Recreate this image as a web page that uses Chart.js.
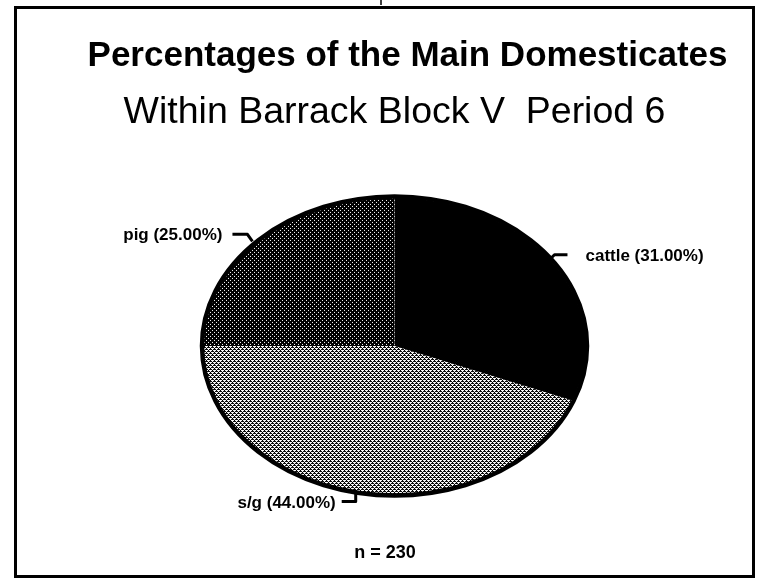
<!DOCTYPE html>
<html><head><meta charset="utf-8">
<script src="https://cdn.jsdelivr.net/npm/chart.js@4/dist/chart.umd.min.js"></script>
<style>html,body{margin:0;padding:0;background:#fff}#wrap{width:761px;height:580px}</style>
</head><body><div id="wrap"><canvas id="c" width="761" height="580"></canvas></div>
<script>
// ---- data ----
const categories = ['cattle', 's/g', 'pig'];
const percentages = [31, 44, 25];
const sampleSize = 230;
const titleText = 'Percentages of the Main Domesticates';
const subtitleText = 'Within Barrack Block V  Period 6';

// ---- styling ----
const FONT = '"Liberation Sans", Arial, Helvetica, sans-serif';
const YS = 148 / 191; // vertical squash of the pie (ellipse)
const TITLE_SHIFT_X = 13;
const canvas = document.getElementById('c');
const ctx0 = canvas.getContext('2d');

function makePattern(size, draw) {
  const c = document.createElement('canvas');
  c.width = c.height = size;
  const g = c.getContext('2d');
  draw(g, size);
  const p = ctx0.createPattern(c, 'repeat');
  p.setTransform(new DOMMatrix().scale(1, 1 / YS));
  return p;
}
const pigPattern = makePattern(4, (g) => {
  g.fillStyle = '#000'; g.fillRect(0, 0, 4, 4);
  g.fillStyle = '#fff'; g.fillRect(0, 0, 1, 1); g.fillRect(2, 2, 1, 1);
});
const sgPattern = makePattern(4, (g) => {
  g.fillStyle = '#fff'; g.fillRect(0, 0, 4, 4);
  g.fillStyle = '#000';
  for (let x = 0; x < 4; x++) for (let y = 0; y < 4; y++) {
    const d = (x + y) % 4;
    const e = (x - y + 4) % 4;
    if (d === 0 || e === 0 || (d === 1 && x % 2 === 0)) g.fillRect(x, y, 1, 1);
  }
});
const fills = ['#000000', sgPattern, pigPattern];

const ellipsePlugin = {
  id: 'ellipse',
  afterLayout(chart) {
    if (chart.titleBlock) {
      chart.titleBlock.left += TITLE_SHIFT_X;
      chart.titleBlock.right += TITLE_SHIFT_X;
    }
  },
  beforeDatasetsDraw(chart) {
    const a = chart.getDatasetMeta(0).data[0];
    const ctx = chart.ctx;
    ctx.save();
    ctx.translate(a.x, a.y); ctx.scale(1, YS); ctx.translate(-a.x, -a.y);
  },
  afterDatasetsDraw(chart) {
    const ctx = chart.ctx;
    ctx.restore();
    const arcs = chart.getDatasetMeta(0).data;
    const a = arcs[0];
    const R = a.outerRadius;
    ctx.save();
    ctx.beginPath();
    ctx.ellipse(a.x, a.y, R + 1.5, R * YS + 1.5, 0, 0, Math.PI * 2);
    ctx.lineWidth = 4.5; ctx.strokeStyle = '#000'; ctx.stroke();
    ctx.font = 'bold 17px ' + FONT;
    ctx.fillStyle = '#000';
    ctx.lineWidth = 3; ctx.lineCap = 'butt'; ctx.lineJoin = 'round';
    arcs.forEach((arc, i) => {
      const mid = (arc.startAngle + arc.endAngle) / 2;
      const ex = arc.x + R * Math.cos(mid);
      const ey = arc.y + R * YS * Math.sin(mid);
      const label = categories[i] + ' (' + percentages[i].toFixed(2) + '%)';
      ctx.beginPath();
      ctx.textBaseline = 'middle';
      if (Math.sin(mid) > 0.9) {
        const sx = ex - 3;
        ctx.moveTo(sx, ey + 2); ctx.lineTo(sx, ey + 10); ctx.lineTo(sx - 14, ey + 10);
        ctx.stroke();
        ctx.textAlign = 'right';
        ctx.fillText(label, sx - 20, ey + 12);
      } else if (Math.cos(mid) > 0) {
        const sx = ex - 2, sy = ey - 4;
        ctx.moveTo(sx, sy); ctx.lineTo(sx + 4, sy - 4); ctx.lineTo(sx + 17, sy - 4);
        ctx.stroke();
        ctx.textAlign = 'left';
        ctx.fillText(label, sx + 35, sy - 2);
      } else {
        const sx = ex - 7, sy = ey;
        ctx.moveTo(sx, sy); ctx.lineTo(sx - 5, sy - 7); ctx.lineTo(sx - 20, sy - 7);
        ctx.stroke();
        ctx.textAlign = 'right';
        ctx.fillText(label, sx - 30, sy - 6);
      }
    });
    ctx.textAlign = 'center';
    ctx.font = 'bold 18px ' + FONT;
    ctx.fillText('n = ' + sampleSize, 385, 553);
    ctx.restore();
  },
  beforeDraw(chart) {
    const ctx = chart.ctx;
    ctx.save();
    ctx.fillStyle = '#fff'; ctx.fillRect(0, 0, chart.width, chart.height);
    ctx.strokeStyle = '#000'; ctx.lineWidth = 3;
    ctx.strokeRect(15.5, 7.5, 738, 569);
    ctx.lineWidth = 1.5;
    ctx.beginPath(); ctx.moveTo(381, 0); ctx.lineTo(381, 5); ctx.stroke();
    ctx.restore();
  }
};

new Chart(canvas, {
  type: 'pie',
  data: {
    labels: categories,
    datasets: [{
      data: percentages,
      backgroundColor: fills,
      borderWidth: 0,
      clip: false
    }]
  },
  options: {
    responsive: false,
    animation: false,
    devicePixelRatio: 1,
    radius: 191,
    layout: { padding: { left: 28, right: 0, top: 0, bottom: 40 } },
    plugins: {
      legend: { display: false },
      tooltip: { enabled: false },
      title: {
        display: true, text: titleText, color: '#000',
        font: { family: FONT, size: 35, weight: 'bold', lineHeight: 1.2 },
        padding: { top: 35, bottom: 0 }
      },
      subtitle: {
        display: true, text: subtitleText, color: '#000',
        font: { family: FONT, size: 37.5, weight: 'normal', lineHeight: 1.2 },
        padding: { top: 13.3, bottom: 16.7 }
      }
    }
  },
  plugins: [ellipsePlugin]
});
</script>
</body></html>
